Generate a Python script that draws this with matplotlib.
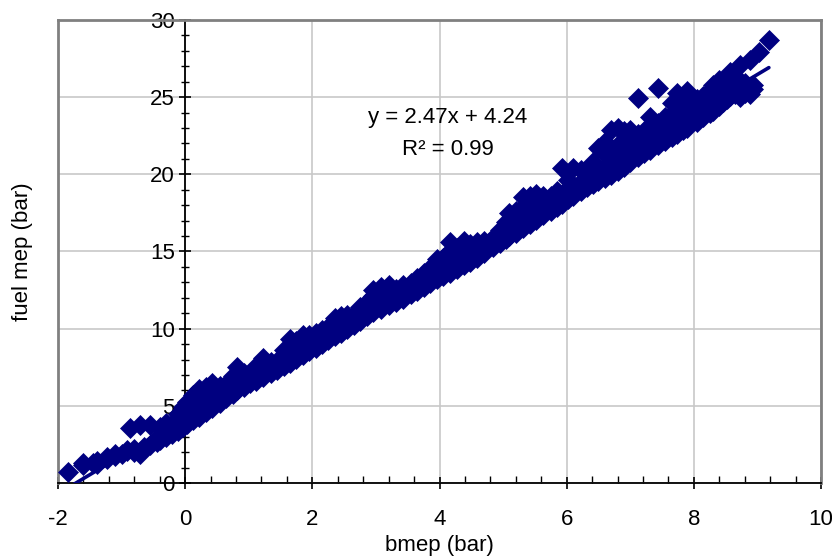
"""
fuel mep vs bmep scatter with linear trendline
"""

import numpy as np
import matplotlib.pyplot as plt
from matplotlib.ticker import MultipleLocator

plt.rcParams['font.family'] = ['Liberation Sans', 'DejaVu Sans']
plt.rcParams['axes.unicode_minus'] = False

#***************** Data ***************#

# bmep stations (bar) and the fuel mep readings (bar) seen at each one
bmep_x = [-1.84, -1.60, -1.45, -1.38, -1.23, -1.10, -1.00, -0.92, -0.86, -0.80,
          -0.71, -0.65, -0.55, -0.45, -0.39, -0.30, -0.20, -0.12, -0.04, 0.03,
          0.12, 0.22, 0.32, 0.42, 0.55, 0.65, 0.75, 0.82, 0.92, 1.02,
          1.12, 1.23, 1.35, 1.45, 1.55, 1.65, 1.75, 1.85, 1.95, 2.05,
          2.15, 2.25, 2.35, 2.45, 2.55, 2.65, 2.75, 2.86, 2.96, 3.08,
          3.20, 3.32, 3.43, 3.55, 3.65, 3.75, 3.85, 3.96, 4.06, 4.17,
          4.28, 4.38, 4.48, 4.59, 4.70, 4.84, 4.95, 5.05, 5.10, 5.20,
          5.31, 5.42, 5.52, 5.63, 5.75, 5.85, 5.92, 6.02, 6.10, 6.22,
          6.32, 6.42, 6.50, 6.60, 6.70, 6.80, 6.90, 7.00, 7.12, 7.22,
          7.31, 7.44, 7.55, 7.65, 7.74, 7.83, 7.90, 8.05, 8.15, 8.25,
          8.30, 8.40, 8.46, 8.52, 8.57, 8.65, 8.73, 8.80, 8.88, 8.93,
          9.03, 9.18]

fuel_y = [[0.72], [1.15, 1.30], [1.30], [1.40, 1.25], [1.55, 1.70],
          [1.75, 1.90], [1.85], [2.05, 2.15], [3.55], [2.00, 2.20],
          [3.75, 1.90], [2.35, 2.25], [3.75, 2.45], [2.65, 2.90], [3.62, 2.80],
          [3.00, 3.30, 3.90], [3.15, 3.50, 3.85], [3.40, 4.10, 4.45],
          [3.60, 4.00, 4.50, 4.90], [3.85, 4.30, 4.80, 5.25],
          [4.05, 4.55, 5.10, 5.70], [4.30, 4.80, 5.40, 6.10],
          [4.60, 5.10, 5.60, 6.20], [4.85, 5.40, 5.90, 6.50],
          [5.20, 5.70, 6.30], [5.50, 6.00, 6.40], [5.75, 6.30, 6.90],
          [6.00, 6.60, 7.50], [6.20, 6.80, 7.10], [6.45, 6.90, 7.15],
          [6.60, 7.10, 7.60], [6.85, 7.40, 8.10], [7.10, 7.50, 7.85],
          [7.35, 7.70, 7.90], [7.55, 8.00, 8.60], [7.80, 8.40, 9.30],
          [8.05, 8.60, 9.20], [8.30, 8.80, 9.60], [8.55, 9.00, 9.60],
          [8.75, 9.25, 9.70], [9.00, 9.50, 9.90], [9.25, 9.70, 10.10],
          [9.50, 10.00, 10.70], [9.75, 10.20, 10.80], [10.00, 10.40, 10.90],
          [10.25, 10.60, 10.90], [10.50, 10.90, 11.40], [10.80, 11.20, 11.70],
          [11.05, 11.50, 12.10, 12.50], [11.30, 11.80, 12.30, 12.70],
          [11.55, 12.00, 12.50, 12.80], [11.75, 12.20, 12.60],
          [11.95, 12.40, 12.80], [12.25, 12.60, 12.95], [12.45, 12.80, 13.30],
          [12.70, 13.10, 13.60], [12.95, 13.40, 13.90], [13.20, 13.70, 14.50],
          [13.40, 13.90, 14.60], [13.60, 14.20, 15.00, 15.60],
          [13.85, 14.40, 15.20], [14.10, 14.70, 15.30, 15.70],
          [14.35, 14.90, 15.50], [14.60, 15.10, 15.60], [14.90, 15.30, 15.70],
          [15.30, 15.60, 15.90], [15.55, 15.90, 16.40], [15.80, 16.20, 16.90],
          [16.00, 16.60, 17.50], [16.20, 16.80, 17.60],
          [16.50, 17.10, 17.90, 18.50], [16.80, 17.40, 18.00, 18.60],
          [17.05, 17.60, 18.20, 18.70], [17.35, 17.80, 18.30, 18.60],
          [17.65, 18.10, 18.60], [17.90, 18.40, 18.90], [18.10, 18.70, 20.40],
          [18.40, 18.90, 19.60], [18.60, 19.20, 20.40], [18.90, 19.50, 20.30],
          [19.15, 19.70, 20.30], [19.40, 20.00, 20.80], [19.55, 20.30, 21.70],
          [19.75, 20.50, 21.30, 22.10], [19.95, 20.80, 21.70, 22.90],
          [20.20, 21.00, 21.90, 23.00], [20.50, 21.20, 22.10, 22.80],
          [20.80, 21.50, 22.30, 22.90], [21.15, 21.80, 22.60, 24.95],
          [21.40, 22.00, 22.80], [21.60, 22.30, 23.10, 23.70],
          [21.90, 22.60, 23.30, 25.60], [22.15, 22.90, 23.70],
          [22.40, 23.10, 23.90, 24.60], [22.60, 23.40, 24.20, 25.30],
          [22.85, 23.70, 24.50], [23.00, 23.90, 24.60, 25.40],
          [23.40, 24.10, 24.90], [23.70, 24.40, 25.10], [23.95, 24.50, 25.40],
          [24.10, 24.90, 25.80], [24.40, 25.00, 25.80, 26.10], [24.70, 25.20],
          [24.90, 25.50, 26.20], [25.10, 26.60], [25.20, 25.80, 26.40],
          [25.00, 25.50, 27.10], [25.30, 25.90], [25.20, 25.60, 27.40],
          [25.50, 25.80], [27.90], [28.70]]

# trendline as printed on the chart
trend_slope = 2.47
trend_intercept = 4.24
r_squared = 0.99

#*******************************************#

xs = []
ys = []
for x, yl in zip(bmep_x, fuel_y):
	for y in yl:
		xs.append(x)
		ys.append(y)

navy = '#000080'
fs = 16

fig = plt.figure(figsize=(8.32, 5.57), dpi=100)
ax = fig.add_axes([0.0697, 0.1329, 0.9171, 0.8312])

ax.plot(xs, ys, linestyle='none', marker='D', markersize=10,
        color=navy, markeredgewidth=0.5, zorder=3)

# trendline over the data range
tx = np.array([min(xs), max(xs)])
ax.plot(tx, trend_slope*tx + trend_intercept, color=navy, lw=2.6,
        solid_capstyle='round', zorder=4)

ax.text(4.13, 23.7, 'y = %.2fx + %.2f' % (trend_slope, trend_intercept),
        ha='center', va='center', fontsize=fs)
ax.text(4.13, 21.6, 'R² = %.2f' % r_squared,
        ha='center', va='center', fontsize=fs)

ax.set_xlim(-2, 10)
ax.set_ylim(0, 30)
ax.xaxis.set_major_locator(MultipleLocator(2))
ax.xaxis.set_minor_locator(MultipleLocator(0.4))
ax.yaxis.set_major_locator(MultipleLocator(5))
ax.yaxis.set_minor_locator(MultipleLocator(1))

ax.grid(True, which='major', color='#c8c8c8', lw=1.2, zorder=0)
ax.set_axisbelow(True)

# frame: gray box, black axes crossing at x=0 and y=0
ax.spines['left'].set_position(('data', 0))
ax.spines['left'].set_color('black')
ax.spines['left'].set_linewidth(1.3)
ax.spines['bottom'].set_color('black')
ax.spines['bottom'].set_linewidth(1.3)
for s in ['top', 'right']:
	ax.spines[s].set_color('#808080')
	ax.spines[s].set_linewidth(2)
ax.axvline(-2, color='#808080', lw=2, clip_on=False, zorder=1)

ax.tick_params(axis='both', which='major', direction='inout', length=9,
               width=1.2, labelsize=fs, color='black')
ax.tick_params(axis='x', which='minor', direction='in', length=5, width=1)
ax.tick_params(axis='y', which='minor', direction='inout', length=6, width=1)
ax.tick_params(axis='x', which='major', pad=14)
ax.tick_params(axis='y', which='major', pad=3)

ax.set_xlabel('bmep (bar)', fontsize=fs, labelpad=4)
ax.set_ylabel('fuel mep (bar)', fontsize=fs)
ax.yaxis.set_label_coords(-0.033, 0.5)

fig.savefig('out.png', dpi=100)
